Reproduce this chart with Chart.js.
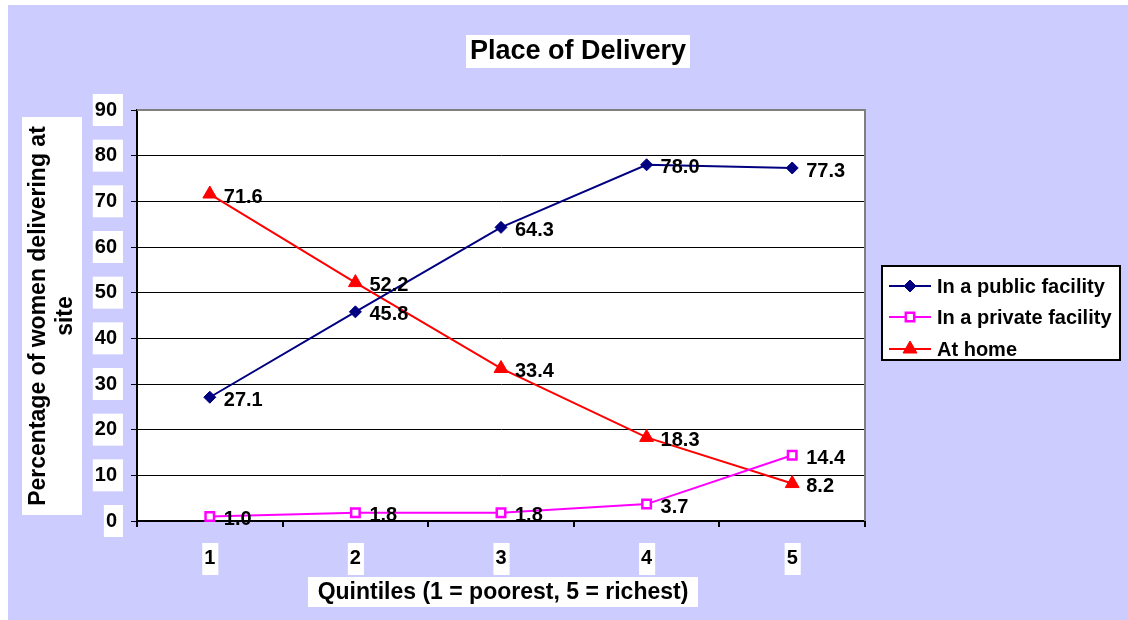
<!DOCTYPE html>
<html>
<head>
<meta charset="utf-8">
<script src="https://cdn.jsdelivr.net/npm/chart.js@4/dist/chart.umd.min.js"></script>
<style>
  html, body { margin: 0; padding: 0; background: #ffffff; }
  #wrap { width: 1128px; height: 620px; }
</style>
</head>
<body>
<div id="wrap"><canvas id="chart" width="1128" height="620"></canvas></div>
<script>
// ── DATA ─────────────────────────────────────────
const QUINTILES = ["1", "2", "3", "4", "5"];
const PUBLIC_FACILITY  = [27.1, 45.8, 64.3, 78.0, 77.3];
const PRIVATE_FACILITY = [1.0, 1.8, 1.8, 3.7, 14.4];
const AT_HOME          = [71.6, 52.2, 33.4, 18.3, 8.2];
const Y_TICKS = [0, 10, 20, 30, 40, 50, 60, 70, 80, 90];

const TITLE = "Place of Delivery";
const X_TITLE = "Quintiles (1 = poorest, 5 = richest)";
const Y_TITLE = ["Percentage of women delivering at", "site"];

const FONT = "'Liberation Sans', Arial, sans-serif";
const LAVENDER = "#ccccff";

// ── PLUGINS ─────────────────────────────────────

function whiteBox(ctx, x, y, w, h) {
  ctx.fillStyle = "#ffffff";
  ctx.fillRect(x, y, w, h);
}

function drawMarker(ctx, style, r, x, y) {
  if (style === "rectRot") {
    ctx.moveTo(x, y - r); ctx.lineTo(x + r, y); ctx.lineTo(x, y + r); ctx.lineTo(x - r, y); ctx.closePath();
  } else if (style === "rect") {
    ctx.rect(x - r * 0.7, y - r * 0.7, r * 1.4, r * 1.4);
  } else {
    ctx.moveTo(x, y - r); ctx.lineTo(x + r * 0.87, y + r * 0.5); ctx.lineTo(x - r * 0.87, y + r * 0.5); ctx.closePath();
  }
}

const frame = {
  id: "frame",
  beforeDraw(chart) {
    const { ctx, chartArea: a } = chart;
    ctx.save();
    ctx.fillStyle = "#ffffff";
    ctx.fillRect(0, 0, chart.width, chart.height);
    ctx.fillStyle = LAVENDER;
    ctx.fillRect(8, 5, chart.width - 8, chart.height - 5);
    ctx.fillStyle = "#ffffff";
    ctx.fillRect(a.left, a.top, a.right - a.left, a.bottom - a.top);

    // title
    ctx.font = "bold 27px " + FONT;
    ctx.textAlign = "center";
    ctx.textBaseline = "middle";
    whiteBox(ctx, 466, 35, 224, 33);
    ctx.fillStyle = "#000";
    ctx.fillText(TITLE, 578, 52);

    // x axis title
    ctx.font = "bold 23px " + FONT;
    whiteBox(ctx, 308, 577, 390, 30);
    ctx.fillStyle = "#000";
    ctx.fillText(X_TITLE, 503, 593);

    // y axis title
    whiteBox(ctx, 22, 117, 60, 398);
    ctx.translate(52, 316);
    ctx.rotate(-Math.PI / 2);
    ctx.fillStyle = "#000";
    ctx.font = "bold 23px " + FONT;
    ctx.fillText(Y_TITLE[0], 0, -13);
    ctx.fillText(Y_TITLE[1], 0, 14);
    ctx.restore();
  },
  beforeDatasetsDraw(chart) {
    const { ctx, chartArea: a } = chart;
    ctx.save();
    ctx.strokeStyle = "#808080";
    ctx.lineWidth = 2;
    ctx.beginPath();
    ctx.moveTo(a.left, a.top);
    ctx.lineTo(a.right, a.top);
    ctx.lineTo(a.right, a.bottom);
    ctx.stroke();
    ctx.restore();
  },
  afterDraw(chart) {
    const { ctx } = chart;
    ctx.save();
    // legend
    ctx.fillStyle = "#ffffff";
    ctx.fillRect(882, 266, 238, 94);
    ctx.strokeStyle = "#000";
    ctx.lineWidth = 2;
    ctx.strokeRect(882, 266, 238, 94);
    const rows = [286, 317, 349];
    chart.data.datasets.forEach((ds, i) => {
      const y = rows[i];
      ctx.strokeStyle = ds.borderColor;
      ctx.lineWidth = 2;
      ctx.beginPath();
      ctx.moveTo(889, y);
      ctx.lineTo(931, y);
      ctx.stroke();
      ctx.fillStyle = ds.pointBackgroundColor;
      ctx.strokeStyle = ds.pointBorderColor;
      ctx.lineWidth = ds.pointBorderWidth;
      ctx.beginPath();
      drawMarker(ctx, ds.pointStyle, ds.pointRadius, 910, y);
      ctx.fill();
      ctx.stroke();
      ctx.fillStyle = "#000";
      ctx.font = "bold 20px " + FONT;
      ctx.textAlign = "left";
      ctx.textBaseline = "middle";
      ctx.fillText(ds.label, 937, y + 1);
    });
    ctx.restore();
  },
};

const valueLabels = {
  id: "valueLabels",
  afterDatasetsDraw(chart) {
    const { ctx } = chart;
    ctx.save();
    ctx.font = "bold 20px " + FONT;
    ctx.fillStyle = "#000";
    ctx.textAlign = "left";
    ctx.textBaseline = "middle";
    chart.data.datasets.forEach((ds, i) => {
      chart.getDatasetMeta(i).data.forEach((pt, j) => {
        ctx.fillText(ds.data[j].toFixed(1), pt.x + 14, pt.y + 3);
      });
    });
    ctx.restore();
  },
};

// ── CHART ───────────────────────────────────────

const tickFont = { family: FONT, size: 20, weight: "bold" };

new Chart(document.getElementById("chart"), {
  type: "line",
  data: {
    labels: QUINTILES,
    datasets: [
      {
        label: "In a public facility",
        data: PUBLIC_FACILITY,
        borderColor: "#000080",
        pointBackgroundColor: "#000080",
        pointBorderColor: "#000080",
        pointStyle: "rectRot",
        pointRadius: 6,
        pointBorderWidth: 1,
      },
      {
        label: "In a private facility",
        data: PRIVATE_FACILITY,
        borderColor: "#ff00ff",
        pointBackgroundColor: "#ffffff",
        pointBorderColor: "#ff00ff",
        pointStyle: "rect",
        pointRadius: 6,
        pointBorderWidth: 2.5,
      },
      {
        label: "At home",
        data: AT_HOME,
        borderColor: "#ff0000",
        pointBackgroundColor: "#ff0000",
        pointBorderColor: "#ff0000",
        pointStyle: "triangle",
        pointRadius: 8,
        pointBorderWidth: 1,
      },
    ],
  },
  options: {
    responsive: false,
    animation: false,
    devicePixelRatio: 1,
    layout: { padding: { left: 0, top: 110, right: 263, bottom: 0 } },
    elements: { line: { borderWidth: 2, tension: 0 } },
    datasets: { line: { clip: false } },
    plugins: {
      legend: { display: false },
      title: { display: false },
      tooltip: { enabled: false },
    },
    scales: {
      x: {
        offset: true,
        afterFit: s => { s.height = 99; },
        grid: {
          offset: true,
          drawOnChartArea: false,
          drawTicks: true,
          tickLength: 6,
          color: "#000",
          lineWidth: 2,
        },
        border: { color: "#000", width: 2 },
        ticks: {
          color: "#000",
          font: tickFont,
          padding: 19,
          showLabelBackdrop: true,
          backdropColor: "#ffffff",
          backdropPadding: { top: 3, bottom: 5, left: 2, right: 3 },
        },
      },
      y: {
        min: 0,
        max: 90,
        afterFit: s => { s.width = 137; },
        afterBuildTicks: s => { s.ticks = Y_TICKS.map(v => ({ value: v })); },
        grid: {
          color: "#000",
          lineWidth: 1,
          tickLength: 6,
          tickColor: "#000",
        },
        border: { color: "#000", width: 2 },
        ticks: {
          color: "#000",
          font: tickFont,
          padding: 14,
          showLabelBackdrop: true,
          backdropColor: "#ffffff",
          backdropPadding: { top: 4, bottom: 4, left: 2, right: 6 },
        },
      },
    },
  },
  plugins: [frame, valueLabels],
});
</script>
</body>
</html>
